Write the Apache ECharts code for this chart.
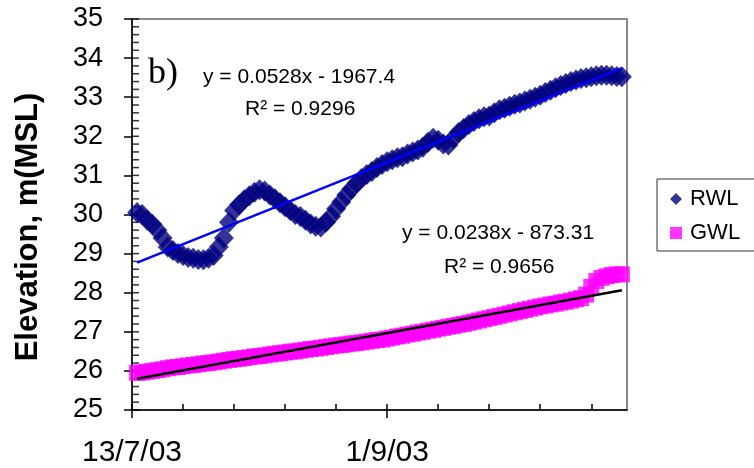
<!DOCTYPE html>
<html>
<head>
<meta charset="utf-8">
<script src="https://cdn.jsdelivr.net/npm/echarts@6/dist/echarts.min.js"></script>
<style>
  html, body { margin: 0; padding: 0; background: #fff; }
  #main { width: 754px; height: 468px; }
</style>
</head>
<body>
<div id="main"></div>
<script>
// day 0 = 13/7/03, one reading per day from day 1
var xLabelDays = [0, 50]
var xLabels = ['13/7/03', '1/9/03']
var xMinorDays = [0, 10, 20, 30, 40, 50, 60, 70, 80, 90]

// river water level (m MSL)
var rwl = [
  30.05, 30.0, 29.85, 29.75, 29.6, 29.4, 29.17, 29.08, 29.0, 28.95,
  28.9, 28.88, 28.85, 28.84, 28.88, 28.95, 29.17, 29.4, 29.8, 30.1,
  30.25, 30.38, 30.48, 30.57, 30.63, 30.6, 30.5, 30.4, 30.3, 30.2,
  30.1, 30.0, 29.95, 29.85, 29.76, 29.7, 29.68, 29.8, 29.95, 30.15,
  30.32, 30.5, 30.65, 30.8, 30.92, 31.02, 31.1, 31.2, 31.28, 31.35,
  31.4, 31.45, 31.48, 31.55, 31.6, 31.65, 31.72, 31.85, 31.95, 31.9,
  31.8, 31.78, 31.95, 32.1, 32.2, 32.3, 32.38, 32.45, 32.5, 32.52,
  32.6, 32.68, 32.72, 32.77, 32.82, 32.85, 32.9, 32.95, 33.0, 33.05,
  33.12, 33.18, 33.24, 33.3, 33.35, 33.4, 33.44, 33.48, 33.5, 33.52,
  33.55, 33.56, 33.56, 33.55, 33.53, 33.52
]

// groundwater level (m MSL)
var gwl = [
  25.95, 25.96, 25.98, 26.0, 26.02, 26.04, 26.07, 26.09, 26.1, 26.12,
  26.14, 26.15, 26.17, 26.19, 26.2, 26.22, 26.24, 26.26, 26.28, 26.3,
  26.31, 26.33, 26.35, 26.37, 26.38, 26.4, 26.42, 26.44, 26.45, 26.47,
  26.49, 26.5, 26.52, 26.54, 26.56, 26.57, 26.59, 26.61, 26.63, 26.65,
  26.66, 26.68, 26.7, 26.71, 26.73, 26.75, 26.77, 26.79, 26.8, 26.83,
  26.85, 26.88, 26.9, 26.93, 26.95, 26.98, 27.0, 27.03, 27.05, 27.08,
  27.1, 27.13, 27.15, 27.18, 27.2, 27.23, 27.26, 27.29, 27.32, 27.35,
  27.38, 27.41, 27.44, 27.47, 27.5, 27.53, 27.56, 27.59, 27.62, 27.65,
  27.67, 27.7, 27.72, 27.75, 27.77, 27.8, 27.83, 27.86, 27.95, 28.15,
  28.3, 28.38, 28.42, 28.45, 28.47, 28.47
]

var rwlEq = 'y = 0.0528x - 1967.4'
var rwlR2 = 'R² = 0.9296'
var gwlEq = 'y = 0.0238x - 873.31'
var gwlR2 = 'R² = 0.9656'

function toPoints(values) {
  return values.map(function(v, i) { return [i + 1, v] })
}

// least squares trendline over the readings, drawn from first to last day
function trend(values) {
  var n = values.length
  var sx = 0, sy = 0, sxx = 0, sxy = 0
  for (var i = 0; i < n; i++) {
    var x = i + 1
    sx += x; sy += values[i]; sxx += x * x; sxy += x * values[i]
  }
  var b = (n * sxy - sx * sy) / (n * sxx - sx * sx)
  var a = (sy - b * sx) / n
  return [[1, a + b], [n, a + b * n]]
}

// inward minor ticks on the y axis, every 0.2 m (drawn as thin bar symbols on the axis)
var yMinor = []
for (var t = 250; t <= 350; t += 2) yMinor.push([0, t / 10])

var chart = echarts.init(document.getElementById('main'))
var font = 'Liberation Sans, Arial, sans-serif'

function label(text, x, y, size) {
  return {
    type: 'text', x: x, y: y, z: 100,
    style: {
      text: text, font: size + 'px ' + font, fill: '#000',
      textAlign: 'left', textVerticalAlign: 'middle', align: 'left', verticalAlign: 'middle'
    }
  }
}

chart.setOption({
  animation: false,
  backgroundColor: '#fff',
  grid: { left: 132, right: 127, top: 19, bottom: 58, show: true, borderColor: '#8a8a8a', borderWidth: 2 },
  legend: {
    data: ['RWL', 'GWL'],
    orient: 'vertical',
    left: 657, top: 179,
    padding: [9, 40, 7, 13],
    itemGap: 12,
    itemWidth: 12, itemHeight: 12,
    borderColor: '#333', borderWidth: 1,
    textStyle: { fontFamily: font, fontSize: 22, color: '#000', padding: [0, 0, 0, 3] }
  },
  xAxis: [
    {
      type: 'value', min: 0, max: 97,
      axisLine: { show: true, lineStyle: { color: '#000', width: 1.5 } },
      axisTick: { show: true, customValues: xLabelDays, length: 8, lineStyle: { color: '#000', width: 1.5 } },
      axisLabel: {
        customValues: xLabelDays,
        margin: 28,
        fontFamily: font, fontSize: 30, color: '#000',
        formatter: function(v) {
          var k = xLabelDays.indexOf(v)
          return k >= 0 ? xLabels[k] : ''
        }
      },
      splitLine: { show: false }
    },
    {
      type: 'value', min: 0, max: 97, position: 'bottom',
      axisLine: { show: false },
      axisTick: { show: true, customValues: xMinorDays, inside: true, length: 6, lineStyle: { color: '#000', width: 1.5 } },
      axisLabel: { show: false },
      splitLine: { show: false }
    }
  ],
  yAxis: {
    type: 'value', min: 25, max: 35, interval: 1,
    axisLine: { show: true, lineStyle: { color: '#000', width: 1.5 } },
    axisTick: { show: true, length: 8, lineStyle: { color: '#000', width: 1.5 } },
    axisLabel: { margin: 29, fontFamily: font, fontSize: 27, color: '#000' },
    splitLine: { show: false }
  },
  graphic: [
    {
      type: 'text', x: 28, y: 227, rotation: Math.PI / 2, z: 100,
      style: {
        text: 'Elevation, m(MSL)', font: 'bold 31px ' + font, fill: '#000',
        textAlign: 'center', textVerticalAlign: 'middle', align: 'center', verticalAlign: 'middle'
      }
    },
    {
      type: 'text', x: 148, y: 74, z: 100,
      style: {
        text: 'b)', font: '36px Liberation Serif, Times New Roman, serif', fill: '#000',
        textAlign: 'left', textVerticalAlign: 'middle', align: 'left', verticalAlign: 'middle'
      }
    },
    label(rwlEq, 203, 77, 21),
    label(rwlR2, 245, 109, 21),
    label(gwlEq, 402, 233, 21),
    label(gwlR2, 444, 267, 21)
  ],
  series: [
    {
      name: 'y minor ticks', type: 'scatter', data: yMinor,
      symbol: 'rect', symbolSize: [7, 1.5], symbolOffset: [3.5, 0],
      itemStyle: { color: '#000' },
      silent: true, clip: false
    },
    {
      name: 'RWL', type: 'scatter', data: toPoints(rwl),
      symbol: 'diamond', symbolSize: [20, 21],
      itemStyle: { color: '#000080' }
    },
    {
      name: 'GWL', type: 'scatter', data: toPoints(gwl),
      symbol: 'rect', symbolSize: 16,
      itemStyle: { color: '#ff00ff' }
    },
    {
      name: 'RWL trend', type: 'line', data: trend(rwl),
      symbol: 'none', silent: true,
      lineStyle: { color: '#0000ff', width: 2.5 }
    },
    {
      name: 'GWL trend', type: 'line', data: trend(gwl),
      symbol: 'none', silent: true,
      lineStyle: { color: '#000', width: 2.5 }
    }
  ]
})
</script>
</body>
</html>
